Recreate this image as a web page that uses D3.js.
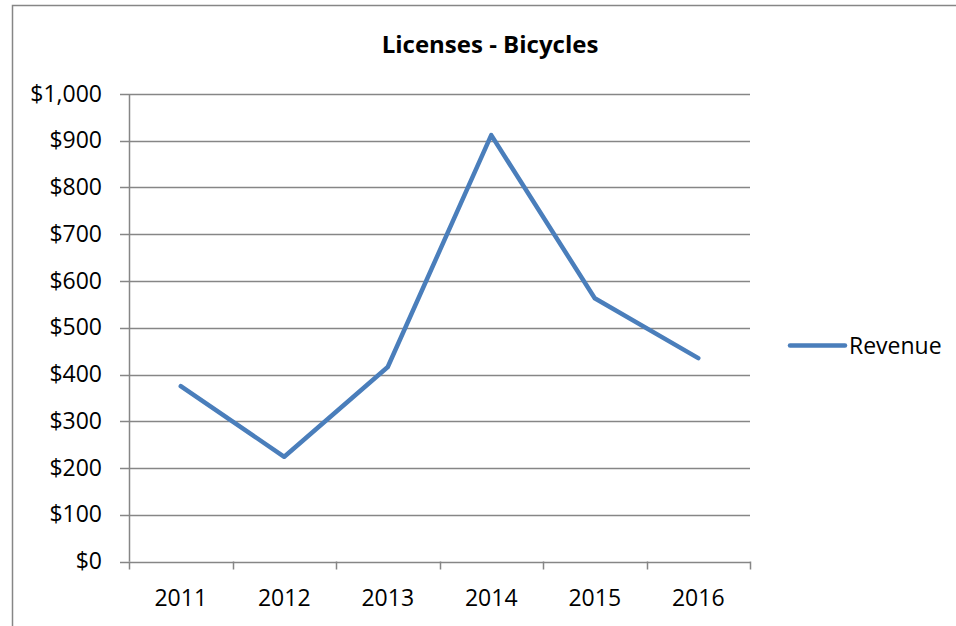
<!DOCTYPE html>
<html>
<head>
<meta charset="utf-8">
<script src="https://cdn.jsdelivr.net/npm/d3@7"></script>
<style>
  body { margin: 0; background: #fff; }
  text { font-family: "Open Sans", Lato, sans-serif; fill: #000; }
</style>
</head>
<body>
<div id="chart"></div>
<script>
const years = ["2011", "2012", "2013", "2014", "2015", "2016"];
const revenue = [375, 224, 416, 912, 563, 435];
const yTicks = [0, 100, 200, 300, 400, 500, 600, 700, 800, 900, 1000];
const seriesName = "Revenue";
const title = "Licenses - Bicycles";

const width = 956, height = 626;
const svg = d3.select("#chart").append("svg")
    .attr("width", width)
    .attr("height", height)
    .style("display", "block");

// outer chart frame
svg.append("rect")
    .attr("x", 12.5).attr("y", 5.5)
    .attr("width", 960).attr("height", 640)
    .attr("fill", "none")
    .attr("stroke", "#868686")
    .attr("stroke-width", 1.5);

const plotLeft = 129, plotRight = 750, plotTop = 94, plotBottom = 561.5;

const x = d3.scaleBand().domain(years).range([plotLeft, plotRight]);
const y = d3.scaleLinear().domain([0, 1000]).range([plotBottom, plotTop]);

// gridlines
svg.append("g")
    .selectAll("line")
    .data(yTicks)
    .join("line")
    .attr("x1", plotLeft - 9).attr("x2", plotRight)
    .attr("y1", d => Math.round(y(d)) + 0.5)
    .attr("y2", d => Math.round(y(d)) + 0.5)
    .attr("stroke", "#868686")
    .attr("stroke-width", 1.5);

// y axis line
svg.append("line")
    .attr("x1", plotLeft + 0.5).attr("x2", plotLeft + 0.5)
    .attr("y1", plotTop).attr("y2", plotBottom)
    .attr("stroke", "#868686")
    .attr("stroke-width", 1.5);

// x tick marks at band edges
const edges = years.map(d => x(d)).concat([plotRight]);
svg.append("g")
    .selectAll("line")
    .data(edges)
    .join("line")
    .attr("x1", d => Math.round(d) + 0.5)
    .attr("x2", d => Math.round(d) + 0.5)
    .attr("y1", plotBottom).attr("y2", plotBottom + 8)
    .attr("stroke", "#868686")
    .attr("stroke-width", 1.5);

// y labels
svg.append("g")
    .selectAll("text")
    .data(yTicks)
    .join("text")
    .attr("x", 102)
    .attr("y", d => y(d) + 7.5)
    .attr("text-anchor", "end")
    .style("font-size", "23px")
    .text(d => "$" + d3.format(",")(d));

// x labels
svg.append("g")
    .selectAll("text")
    .data(years)
    .join("text")
    .attr("x", d => x(d) + x.bandwidth() / 2)
    .attr("y", 606)
    .attr("text-anchor", "middle")
    .style("font-size", "23px")
    .text(d => d);

// line
const line = d3.line()
    .x((d, i) => x(years[i]) + x.bandwidth() / 2)
    .y(d => y(d));

svg.append("path")
    .datum(revenue)
    .attr("fill", "none")
    .attr("stroke", "#4a7ebb")
    .attr("stroke-width", 4.5)
    .attr("stroke-linejoin", "round")
    .attr("stroke-linecap", "round")
    .attr("d", line);

// title
svg.append("text")
    .attr("x", 490)
    .attr("y", 53)
    .attr("text-anchor", "middle")
    .style("font-size", "24px")
    .style("font-weight", "bold")
    .text(title);

// legend
svg.append("line")
    .attr("x1", 790).attr("x2", 845)
    .attr("y1", 345.5).attr("y2", 345.5)
    .attr("stroke", "#4a7ebb")
    .attr("stroke-width", 4.5)
    .attr("stroke-linecap", "round");

svg.append("text")
    .attr("x", 849)
    .attr("y", 354)
    .style("font-size", "23px")
    .text(seriesName);
</script>
</body>
</html>
